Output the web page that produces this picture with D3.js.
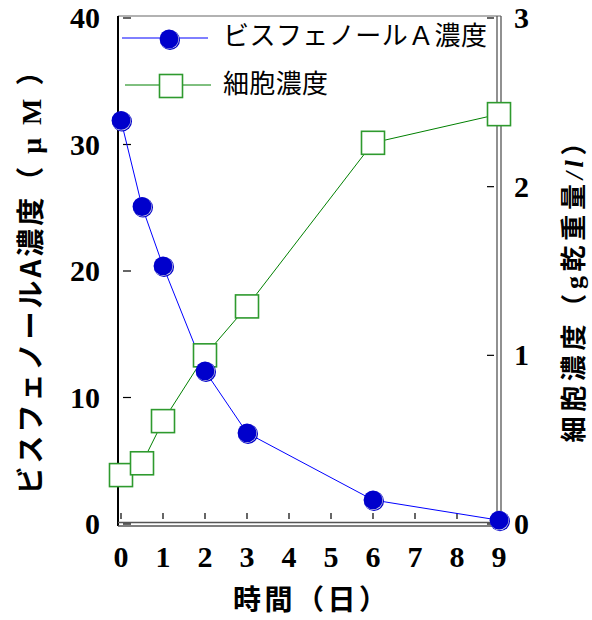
<!DOCTYPE html>
<html>
<head>
<meta charset="utf-8">
<script src="https://cdn.jsdelivr.net/npm/d3@7"></script>
<style>
  body { margin: 0; background: #fff; }
</style>
</head>
<body>
<div id="chart"></div>
<script>
// data
var days = [0, 0.5, 1, 2, 3, 6, 9];
var bpa = [31.9, 25.1, 20.4, 12.1, 7.2, 1.9, 0.3];      // left axis, uM
var cells = [0.29, 0.36, 0.61, 1.0, 1.29, 2.26, 2.43];  // right axis, g dry wt / l
var xTicks = [0, 1, 2, 3, 4, 5, 6, 7, 8, 9];
var yLeftTicks = [0, 10, 20, 30, 40];
var yRightTicks = [0, 1, 2, 3];

var width = 592, height = 620;
var serif = "'Liberation Serif', 'Times New Roman', serif";
var sans = "'Noto Sans CJK JP', 'Noto Sans', sans-serif";

var svg = d3.select("#chart").append("svg")
  .attr("width", width)
  .attr("height", height);

var x = d3.scaleLinear().domain([0, 9]).range([121, 499]);
var yL = d3.scaleLinear().domain([0, 40]).range([524, 18]);
var yR = d3.scaleLinear().domain([0, 3]).range([524, 18]);

// frame
svg.append("line").attr("x1", 118).attr("x2", 501).attr("y1", 16).attr("y2", 16)
  .attr("stroke", "#666").attr("stroke-width", 1.2);
svg.append("line").attr("x1", 118).attr("x2", 118).attr("y1", 16).attr("y2", 526)
  .attr("stroke", "#000").attr("stroke-width", 2);
[497, 501].forEach(function(px){
  svg.append("line").attr("x1", px).attr("x2", px).attr("y1", 16).attr("y2", 526)
    .attr("stroke", "#555").attr("stroke-width", 1.3);
});
[522.5, 526].forEach(function(py){
  svg.append("line").attr("x1", 118).attr("x2", 501).attr("y1", py).attr("y2", py)
    .attr("stroke", "#555").attr("stroke-width", 1.3);
});

// ticks (drawn inside)
svg.selectAll(".xt").data(xTicks).enter().append("line")
  .attr("x1", function(d){ return x(d); }).attr("x2", function(d){ return x(d); })
  .attr("y1", 513).attr("y2", 519)
  .attr("stroke", "#000").attr("stroke-width", 1.2);
svg.selectAll(".ylt").data(yLeftTicks).enter().append("line")
  .attr("x1", 123).attr("x2", 131)
  .attr("y1", function(d){ return yL(d); }).attr("y2", function(d){ return yL(d); })
  .attr("stroke", "#000").attr("stroke-width", 1.2);
svg.selectAll(".yrt").data(yRightTicks).enter().append("line")
  .attr("x1", 487).attr("x2", 494)
  .attr("y1", function(d){ return yR(d); }).attr("y2", function(d){ return yR(d); })
  .attr("stroke", "#000").attr("stroke-width", 1.2);

// tick labels
svg.selectAll(".xl").data(xTicks).enter().append("text")
  .attr("x", function(d){ return x(d); }).attr("y", 567)
  .attr("text-anchor", "middle")
  .style("font-family", serif).style("font-weight", "bold").style("font-size", "30px")
  .text(function(d){ return d; });
svg.selectAll(".yll").data(yLeftTicks).enter().append("text")
  .attr("x", 100).attr("y", function(d){ return yL(d) + 10; })
  .attr("text-anchor", "end")
  .style("font-family", serif).style("font-weight", "bold").style("font-size", "30px")
  .text(function(d){ return d; });
svg.selectAll(".yrl").data(yRightTicks).enter().append("text")
  .attr("x", 514).attr("y", function(d){ return yR(d) + 10; })
  .attr("text-anchor", "start")
  .style("font-family", serif).style("font-weight", "bold").style("font-size", "30px")
  .text(function(d){ return d; });

// axis titles
svg.append("text")
  .attr("x", 310).attr("y", 610)
  .attr("text-anchor", "middle")
  .attr("textLength", 154).attr("lengthAdjust", "spacing")
  .style("font-family", sans).style("font-weight", "bold").style("font-size", "28px")
  .text("時間（日）");

var lt = svg.append("text")
  .attr("transform", "translate(41,276) rotate(-90)")
  .attr("text-anchor", "middle")
  .attr("textLength", 437).attr("lengthAdjust", "spacing")
  .style("font-family", sans).style("font-weight", "bold").style("font-size", "28px");
lt.append("tspan").text("ビスフェノールA濃度（");
lt.append("tspan").style("font-family", serif).text(" μ M ");
lt.append("tspan").text("）");

var rt = svg.append("text")
  .attr("transform", "translate(583,286) rotate(-90)")
  .attr("text-anchor", "middle")
  .attr("textLength", 313).attr("lengthAdjust", "spacing")
  .style("font-family", sans).style("font-weight", "bold").style("font-size", "26px");
rt.append("tspan").text("細胞濃度（");
rt.append("tspan").style("font-family", serif).text("g");
rt.append("tspan").text("乾重量");
rt.append("tspan").style("font-family", serif).style("font-style", "italic").text("/l");
rt.append("tspan").text("）");

// lines
var bpaPts = days.map(function(d, i){ return [d, bpa[i]]; });
var cellPts = days.map(function(d, i){ return [d, cells[i]]; });

svg.append("path").datum(cellPts)
  .attr("fill", "none").attr("stroke", "#008000").attr("stroke-width", 1)
  .attr("d", d3.line().x(function(d){ return x(d[0]); }).y(function(d){ return yR(d[1]); }));
svg.append("path").datum(bpaPts)
  .attr("fill", "none").attr("stroke", "#0000ff").attr("stroke-width", 1)
  .attr("d", d3.line().x(function(d){ return x(d[0]); }).y(function(d){ return yL(d[1]); }));

function square(g, cx, cy){
  g.append("rect").attr("x", cx - 11.5).attr("y", cy - 11.5)
    .attr("width", 23).attr("height", 23)
    .attr("fill", "#fff").attr("stroke", "#2e9a2e").attr("stroke-width", 1.6);
}
function ball(g, cx, cy){
  g.append("circle").attr("cx", cx + 1).attr("cy", cy + 1).attr("r", 10)
    .attr("fill", "#0000cc");
  g.append("circle").attr("cx", cx + 0.4).attr("cy", cy + 0.4).attr("r", 9.6)
    .attr("fill", "#ccd");
  g.append("circle").attr("cx", cx).attr("cy", cy).attr("r", 9.4)
    .attr("fill", "#0000cc");
}

var marks = svg.append("g");
cellPts.forEach(function(d){ square(marks, x(d[0]), yR(d[1])); });
bpaPts.forEach(function(d){ ball(marks, x(d[0]), yL(d[1])); });

// legend
var leg = svg.append("g");
leg.append("line").attr("x1", 122).attr("x2", 208).attr("y1", 38).attr("y2", 38)
  .attr("stroke", "#0000ff").attr("stroke-width", 1);
ball(leg, 169, 39);
leg.append("text").attr("x", 223).attr("y", 45)
  .attr("textLength", 264).attr("lengthAdjust", "spacing")
  .style("font-family", sans).style("font-size", "26px")
  .text("ビスフェノールＡ濃度");
leg.append("line").attr("x1", 125).attr("x2", 211).attr("y1", 85).attr("y2", 85)
  .attr("stroke", "#008000").attr("stroke-width", 1);
square(leg, 171, 86);
leg.append("text").attr("x", 223).attr("y", 93)
  .attr("textLength", 105).attr("lengthAdjust", "spacing")
  .style("font-family", sans).style("font-size", "26px")
  .text("細胞濃度");
</script>
</body>
</html>
